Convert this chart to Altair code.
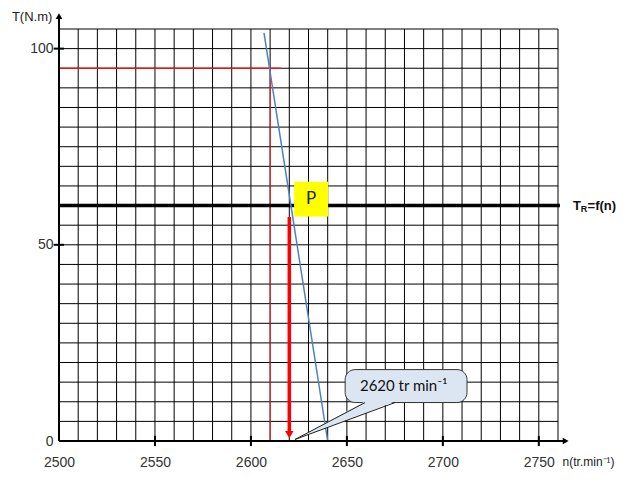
import altair as alt
import pandas as pd

# ---------------- data ----------------
x_grid = list(range(2500, 2761, 10))
y_grid = list(range(0, 106, 5))
x_labels = [2500, 2550, 2600, 2650, 2700, 2750]
y_labels = [0, 50, 100]
x_ticks = [2550, 2600, 2650, 2700, 2750]
y_ticks = [50, 100]

# resistive torque T_R = f(n)
tr_value = 60
tr_n = [2500, 2761]

# motor characteristic (blue)
motor_n = [2606.8, 2640.0]
motor_t = [104.0, 0.0]

# red construction lines
red_h_n = [2500, 2615.7]
red_h_t = 95
red_v_n = 2610
red_v_t = [0, 95]

# operating point arrow
arrow_n = 2620
arrow_t = [57.1, 2.5]
arrow_head_t = 1.6

# yellow box P
p_box_n = [2622.5, 2640.2]
p_box_t = [57.2, 66.1]
p_label = "P"
p_label_n, p_label_t = 2631.3, 61.7

# callout bubble
callout_n = [2649.1, 2712.6]
callout_t = [9.8, 18.2]
callout_text = "2620 tr min⁻¹"
callout_text_n, callout_text_t = 2656.8, 14.0
tip_n, tip_t = 2623.0, 0.4
base_n = [2659.5, 2675.1]
base_t = 9.8

# axis titles / labels
y_title = "T(N.m)"
y_title_n, y_title_t = 2486.0, 108.0
x_title = "n(tr.min⁻¹)"
x_title_n, x_title_t = 2762.4, -5.4
tr_parts = ["T", "R", "=f(n)"]
tr_parts_n = [2767.8, 2771.9, 2775.4]
tr_parts_t = [60, 59.2, 60]

x_axis_end = 2764.0
y_axis_end = 108.3

# ---------------- scales ----------------
xs = alt.Scale(domain=[2500, 2760], nice=False, zero=False)
ys = alt.Scale(domain=[0, 105], nice=False, zero=False)
FONT = "Liberation Sans"

x_axis = alt.Axis(values=x_labels, title=None, domain=False, grid=False, ticks=False,
                  labelFontSize=14, labelFont=FONT, labelColor="#333", labelPadding=14,
                  format="d", labelOverlap=False, labelFlush=False)
y_axis = alt.Axis(values=y_labels, title=None, domain=False, grid=False, ticks=False,
                  labelFontSize=14, labelFont=FONT, labelColor="#333", labelPadding=6,
                  format="d", labelOverlap=False)


def X(f):
    return alt.X(f, type="quantitative", scale=xs, axis=x_axis)


def Y(f):
    return alt.Y(f, type="quantitative", scale=ys, axis=y_axis)


# grid
vgrid = alt.Chart(pd.DataFrame({"n": x_grid, "t0": 0, "t1": 105})).mark_rule(
    color="black", strokeWidth=1).encode(x=X("n"), y=Y("t0"), y2="t1")
hgrid = alt.Chart(pd.DataFrame({"t": y_grid, "n0": 2500, "n1": 2760})).mark_rule(
    color="black", strokeWidth=1).encode(y=Y("t"), x=X("n0"), x2="n1")

# axes lines + arrows
xaxis_line = alt.Chart(pd.DataFrame({"n0": [2500], "n1": [x_axis_end], "t": [0]})).mark_rule(
    color="black", strokeWidth=2).encode(x=X("n0"), x2="n1", y=Y("t"))
yaxis_line = alt.Chart(pd.DataFrame({"t0": [0], "t1": [y_axis_end], "n": [2500]})).mark_rule(
    color="black", strokeWidth=2).encode(y=Y("t0"), y2="t1", x=X("n"))
xarrow = alt.Chart(pd.DataFrame({"n": [x_axis_end], "t": [0]})).mark_point(
    shape="triangle-right", filled=True, color="black", size=45, opacity=1).encode(x=X("n"), y=Y("t"))
yarrow = alt.Chart(pd.DataFrame({"n": [2500], "t": [y_axis_end]})).mark_point(
    shape="triangle-up", filled=True, color="black", size=45, opacity=1).encode(x=X("n"), y=Y("t"))

# crossing ticks
xt = alt.Chart(pd.DataFrame({"n": x_ticks, "t0": -1.3, "t1": 1.3})).mark_rule(
    color="black", strokeWidth=2).encode(x=X("n"), y=Y("t0"), y2="t1")
yt = alt.Chart(pd.DataFrame({"t": y_ticks, "n0": 2497.2, "n1": 2502.6})).mark_rule(
    color="black", strokeWidth=2).encode(y=Y("t"), x=X("n0"), x2="n1")

# T_R line
tr_line = alt.Chart(pd.DataFrame({"n0": [tr_n[0]], "n1": [tr_n[1]], "t": [tr_value]})).mark_rule(
    color="black", strokeWidth=3.5).encode(x=X("n0"), x2="n1", y=Y("t"))

# red construction lines
red_h = alt.Chart(pd.DataFrame({"n0": [red_h_n[0]], "n1": [red_h_n[1]], "t": [red_h_t]})).mark_rule(
    color="#e8141c", strokeWidth=1.6).encode(x=X("n0"), x2="n1", y=Y("t"))
red_v = alt.Chart(pd.DataFrame({"n": [red_v_n], "t0": [red_v_t[0]], "t1": [red_v_t[1]]})).mark_rule(
    color="#ff2020", strokeWidth=1).encode(x=X("n"), y=Y("t0"), y2="t1")

# motor characteristic
motor = alt.Chart(pd.DataFrame({"n": motor_n, "t": motor_t})).mark_line(
    color="#4f81bd", strokeWidth=1.5).encode(x=X("n"), y=Y("t"))

# red arrow
arrow = alt.Chart(pd.DataFrame({"n": [arrow_n], "t0": [arrow_t[0]], "t1": [arrow_t[1]]})).mark_rule(
    color="#ff0000", strokeWidth=3.5).encode(x=X("n"), y=Y("t0"), y2="t1")
arrow_head = alt.Chart(pd.DataFrame({"n": [arrow_n], "t": [arrow_head_t]})).mark_point(
    shape="triangle-down", filled=True, color="#ff0000", size=70, opacity=1).encode(x=X("n"), y=Y("t"))

# yellow P box
pbox = alt.Chart(pd.DataFrame({"n0": [p_box_n[0]], "n1": [p_box_n[1]],
                               "t0": [p_box_t[0]], "t1": [p_box_t[1]]})).mark_rect(
    color="#ffff00").encode(x=X("n0"), x2="n1", y=Y("t0"), y2="t1")
ptext = alt.Chart(pd.DataFrame({"n": [p_label_n], "t": [p_label_t], "s": [p_label]})).mark_text(
    font="Lato", fontSize=17, color="#222", align="center", baseline="middle").encode(
    x=X("n"), y=Y("t"), text="s:N")

# callout
bubble = alt.Chart(pd.DataFrame({"n0": [callout_n[0]], "n1": [callout_n[1]],
                                 "t0": [callout_t[0]], "t1": [callout_t[1]]})).mark_rect(
    fill="#dce6f2", stroke="#333", strokeWidth=1, cornerRadius=10).encode(
    x=X("n0"), x2="n1", y=Y("t0"), y2="t1")
frac = (base_n[0] - tip_n) / (base_n[1] - tip_n)
pointer_fill = alt.Chart(pd.DataFrame({
    "n": [tip_n, base_n[0], base_n[1]],
    "top": [tip_t, base_t + 0.3, base_t + 0.3],
    "bot": [tip_t, tip_t + frac * (base_t - tip_t), base_t + 0.3]})).mark_area(
    color="#dce6f2", opacity=1).encode(x=X("n"), y=Y("top"), y2="bot")
pointer_lines = alt.Chart(pd.DataFrame({
    "n": [tip_n, base_n[0], tip_n, base_n[1]],
    "t": [tip_t, base_t, tip_t, base_t],
    "g": ["a", "a", "b", "b"]})).mark_line(color="#222", strokeWidth=1).encode(
    x=X("n"), y=Y("t"), detail="g:N")
ctext = alt.Chart(pd.DataFrame({"n": [callout_text_n], "t": [callout_text_t], "s": [callout_text]})).mark_text(
    font="Lato", fontSize=15, color="#111", align="left", baseline="middle").encode(
    x=X("n"), y=Y("t"), text="s:N")

# titles
ytitle = alt.Chart(pd.DataFrame({"n": [y_title_n], "t": [y_title_t], "s": [y_title]})).mark_text(
    font=FONT, fontSize=13, color="#222", align="center", baseline="middle").encode(
    x=X("n"), y=Y("t"), text="s:N")
xtitle = alt.Chart(pd.DataFrame({"n": [x_title_n], "t": [x_title_t], "s": [x_title]})).mark_text(
    font=FONT, fontSize=12, color="#222", align="left", baseline="middle").encode(
    x=X("n"), y=Y("t"), text="s:N")

tr_df = pd.DataFrame({"n": tr_parts_n, "t": tr_parts_t, "s": tr_parts,
                      "fs": [13, 9, 13]})
tr_big = alt.Chart(tr_df[tr_df.fs == 13]).mark_text(
    font=FONT, fontSize=13, fontWeight="bold", color="#111", align="left", baseline="middle").encode(
    x=X("n"), y=Y("t"), text="s:N")
tr_small = alt.Chart(tr_df[tr_df.fs == 9]).mark_text(
    font=FONT, fontSize=9, fontWeight="bold", color="#111", align="left", baseline="middle").encode(
    x=X("n"), y=Y("t"), text="s:N")

chart = alt.layer(
    vgrid, hgrid, red_v, red_h, tr_line, motor, pbox, ptext, arrow, arrow_head,
    bubble, pointer_fill, pointer_lines, ctext,
    xaxis_line, yaxis_line, xarrow, yarrow, xt, yt,
    ytitle, xtitle, tr_big, tr_small,
).properties(
    width=499, height=412,
    autosize=alt.AutoSizeParams(type="none"),
    padding={"left": 51, "top": 21, "right": 62, "bottom": 44},
).configure_view(stroke=None)

chart.save("out.html", embed_options={"renderer": "svg", "actions": False})
